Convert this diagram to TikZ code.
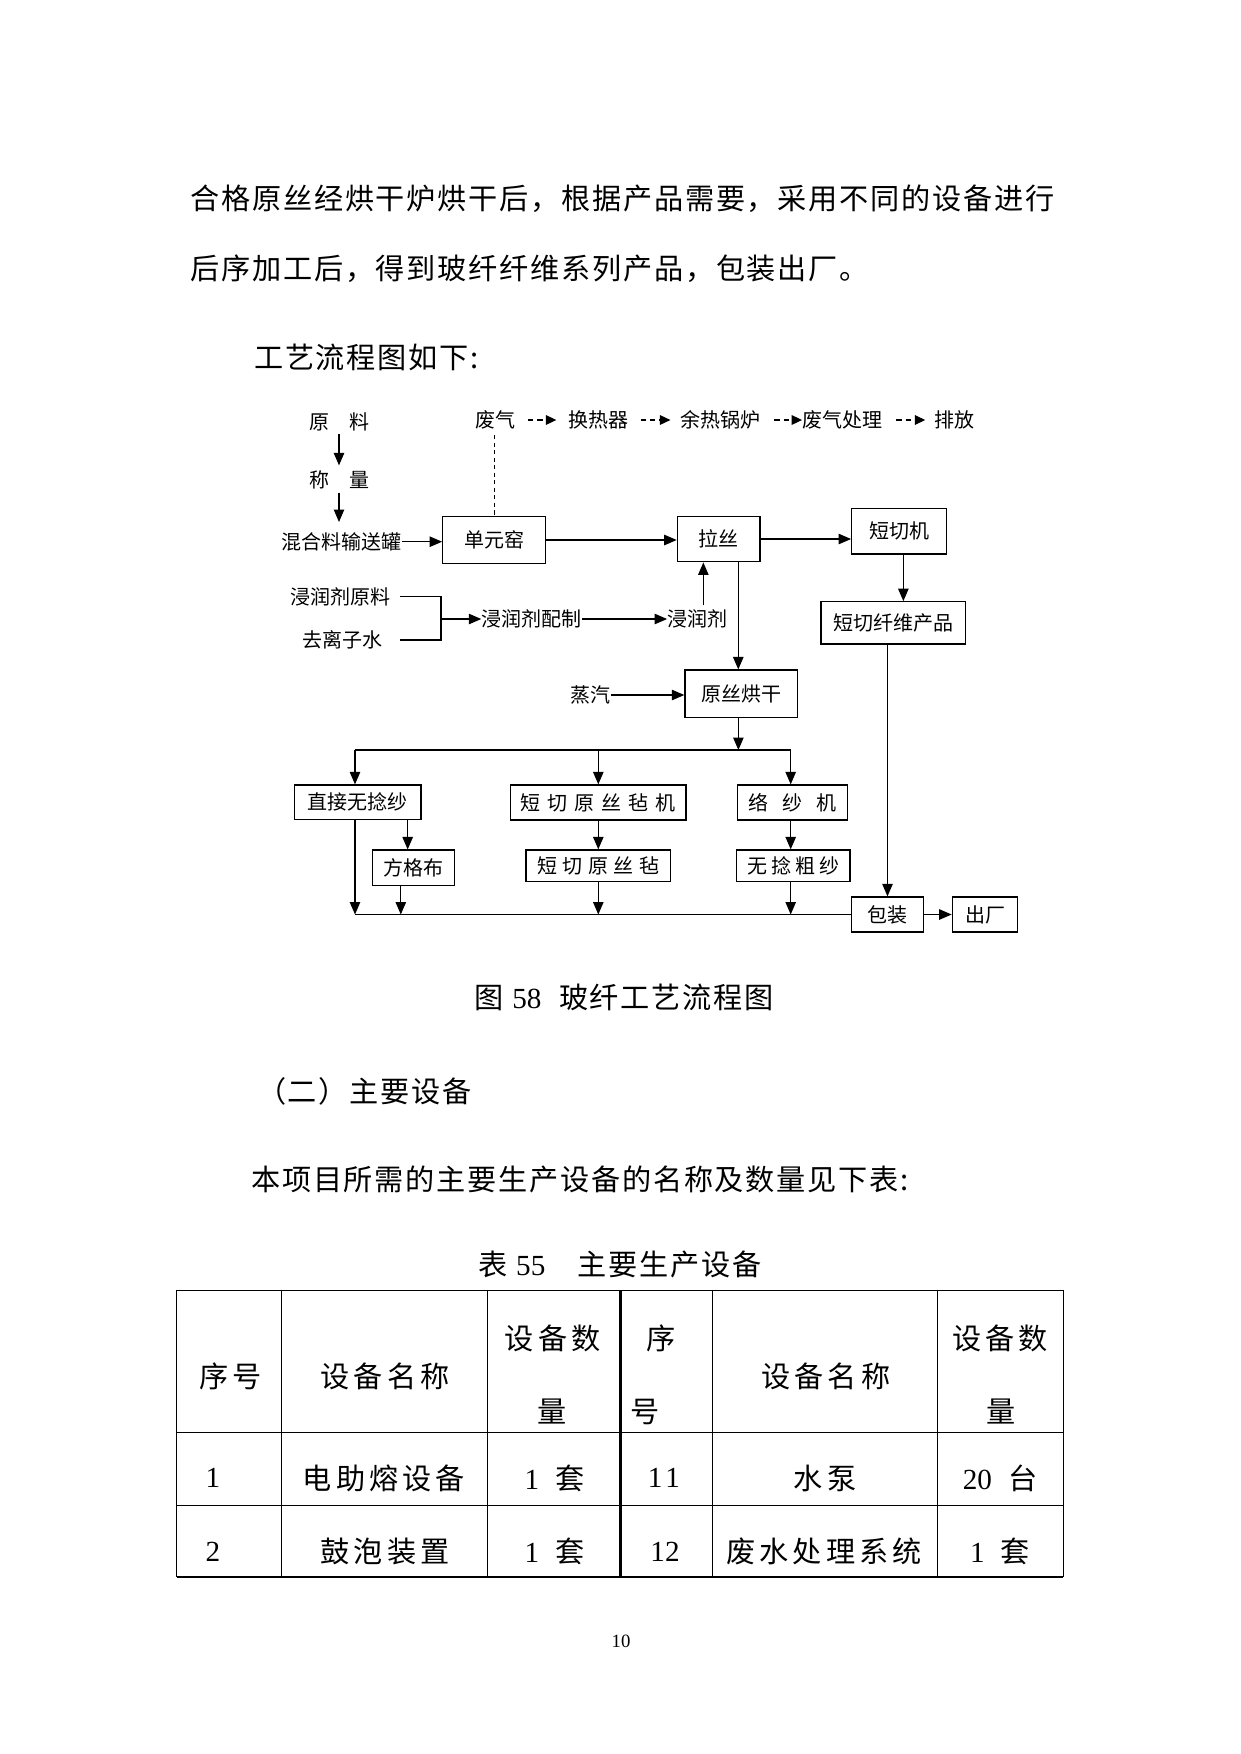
\documentclass[tikz,border=0pt]{standalone}
\usepackage{fontspec}
\setmainfont{Liberation Serif}
\newfontfamily\cjk{Noto Sans CJK SC}
\usetikzlibrary{arrows.meta, positioning}
\tikzset{
    box/.style={draw, line width=0.6pt, inner sep=0pt, font=\cjk\fontsize{9.6}{11}\selectfont},
    spaced/.style={font=\cjk\fontsize{9.6}{11}\selectfont\addfontfeatures{LetterSpace=#1}},
    lbl/.style={inner sep=0pt, font=\cjk\fontsize{9.6}{11}\selectfont},
    arr/.style={line width=0.6pt, -{Triangle[length=6pt, width=5pt]}},
    dasharr/.style={line width=0.6pt, dash pattern=on 2.6pt off 1.9pt, -{Triangle[length=5pt, width=4.6pt]}},
    line/.style={line width=0.6pt},
    body/.style={anchor=west, inner sep=0pt, font=\cjk\fontsize{14}{16}\selectfont\addfontfeatures{LetterSpace=6}},
    cell/.style={inner sep=0pt, font=\cjk\fontsize{14}{16}\selectfont\addfontfeatures{LetterSpace=14}},
    num/.style={inner sep=0pt, font=\fontsize{14}{16}\selectfont}
}
\begin{document}
\begin{tikzpicture}[x=0.48pt, y=-0.48pt]
    \useasboundingbox (0,0) rectangle (1241,1754);

    % text above the chart
    \node[body] (p1) at (190,199) {合格原丝经烘干炉烘干后，根据产品需要，采用不同的设备进行};
    \node[body] (p2) at (190,269) {后序加工后，得到玻纤纤维系列产品，包装出厂。};
    \node[body] (p3) at (253.7,357) {工艺流程图如下:};

    % raw material line
    \node[lbl] (yl) at (339,421.7) {原　料};
    \node[lbl] (cl) at (339,480) {称　量};
    \node[lbl] (hhl) at (341.7,541.7) {混合料输送罐};
    \node[box, minimum width=49.4pt, minimum height=22.4pt] (dyy) at (494.2,540) {单元窑\hspace{0.5em}};
    \node[box, minimum width=39.7pt, minimum height=21.9pt] (ls) at (718.7,539) {拉丝\hspace{0.5em}};
    \node[box, minimum width=45.6pt, minimum height=21.9pt] (dqj) at (899.2,531.2) {短切机};
    \node[box, minimum width=69.5pt, minimum height=20.3pt] (dqcp) at (893.3,622.9) {短切纤维产品};

    % waste gas line
    \node[lbl] (fq) at (495.8,420) {废气};
    \node[lbl] (hrq) at (598,420) {换热器};
    \node[lbl] (yrgl) at (720.8,420) {余热锅炉};
    \node[lbl] (fqcl) at (842.5,420) {废气处理};
    \node[lbl] (pf) at (954,420) {排放};

    % sizing agent
    \node[lbl] (jryl) at (340,596.7) {浸润剂原料};
    \node[lbl] (qlzs) at (342.5,640) {去离子水};
    \node[lbl] (jrpz) at (531.7,619) {浸润剂配制};
    \node[lbl] (jrj) at (697.5,619) {浸润剂};
    \node[lbl] (zq) at (590.8,695) {蒸汽};
    \node[box, minimum width=54.1pt, minimum height=22.7pt] (ysgh) at (741.3,693.7) {原丝烘干};

    % products
    \node[box, minimum width=60.8pt, minimum height=16.5pt] (zj) at (357.7,802.2) {直接无捻纱};
    \node[box, spaced=35, minimum width=84.3pt, minimum height=16.8pt] (dqjm) at (598.3,802.5) {短切原丝毡机};
    \node[box, spaced=70, minimum width=52.8pt, minimum height=16.8pt] (lsj) at (792.3,802.5) {络纱机};
    \node[box, minimum width=39.4pt, minimum height=17.1pt] (fgb) at (413.3,867.9) {方格布};
    \node[box, spaced=27, minimum width=69.3pt, minimum height=15.2pt] (dqz) at (598.3,865.8) {短切原丝毡};
    \node[box, spaced=20, minimum width=54.4pt, minimum height=15.2pt] (wncs) at (793.3,865.8) {无捻粗纱};
    \node[box, minimum width=34.4pt, minimum height=16.8pt] (bz) at (887.5,914.5) {包装};
    \node[box, minimum width=31.4pt, minimum height=16.8pt] (cc) at (985,914.5) {出厂};

    \coordinate (brk) at (441,619);
    \coordinate (busL) at (355,750);
    \coordinate (busR) at (790.7,750);
    \coordinate (botL) at (355,914.5);

    % connectors
    \draw[arr, shorten <=1.5pt, shorten >=2.4pt] (yl.south) -- (cl.north);
    \draw[arr, shorten <=1.4pt, shorten >=4.8pt] (cl.south) -- (cl.south |- hhl.north);
    \draw[arr] (hhl.east) -- (hhl.east -| dyy.west);
    \draw[arr] (dyy.east) -- (dyy.east -| ls.west);
    \draw[arr] (ls.east) -- (ls.east -| dqj.west);
    \draw[arr] ([xshift=2pt]dqj.south) -- ([xshift=2pt]dqj.south |- dqcp.north);
    \draw[arr] (dqcp.south -| bz.north) -- (bz.north);

    \draw[line, dash pattern=on 2pt off 1.6pt, shorten <=2.7pt] (fq.south -| dyy.north) -- (dyy.north);
    \draw[dasharr, shorten <=5.6pt, shorten >=5.4pt] (fq.east) -- (hrq.west);
    \draw[dasharr, shorten <=5.8pt, shorten >=4.8pt] (hrq.east) -- (yrgl.west);
    \draw[dasharr, shorten <=6.2pt] (yrgl.east) -- (fqcl.west);
    \draw[dasharr, shorten <=6.4pt, shorten >=4pt] (fqcl.east) -- (pf.west);

    \draw[line] ([xshift=4.8pt]jryl.east) -| (brk) |- ([xshift=8.4pt]qlzs.east);
    \draw[arr] (brk) -- (brk -| jrpz.west);
    \draw[arr] (jrpz.east) -- (jrj.west);
    \draw[arr, shorten <=1.9pt] ([xshift=2.8pt]jrj.north) -- ([xshift=2.8pt]jrj.north |- ls.south);
    \draw[arr] ([xshift=9.4pt]ls.south) -- ([xshift=9.4pt]ls.south |- ysgh.north);
    \draw[arr] (zq.east) -- (zq.east -| ysgh.west);

    \draw[line] (busL) -- (busR);
    \draw[arr] ([xshift=-1.4pt]ysgh.south) -- ([xshift=-1.4pt]ysgh.south |- busL);
    \draw[arr] (busL) -- (busL |- zj.north);
    \draw[arr] (busL -| dqjm.north) -- (dqjm.north);
    \draw[arr] (busR) -- (busR |- lsj.north);
    \draw[arr] ([xshift=-2.7pt]fgb.north |- zj.south) -- ([xshift=-2.7pt]fgb.north);
    \draw[arr] (dqjm.south) -- (dqz.north);
    \draw[arr] (busR |- lsj.south) -- (busR |- wncs.north);

    \draw[line] (botL) -- (botL -| bz.west);
    \draw[arr] (botL |- zj.south) -- (botL);
    \draw[arr] ([xshift=-6pt]fgb.south) -- ([xshift=-6pt]fgb.south |- botL);
    \draw[arr] (dqz.south) -- (dqz.south |- botL);
    \draw[arr] (busR |- wncs.south) -- (busR |- botL);
    \draw[arr] (bz.east) -- (cc.west);

    % caption and following text
    \node[body] (cap) at (474,997) {图\hspace{0.3em}{\rmfamily 58}\hspace{0.6em}玻纤工艺流程图};
    \node[body] (sec) at (256.6,1091.7) {（二）主要设备};
    \node[body] (intro) at (250.8,1179) {本项目所需的主要生产设备的名称及数量见下表:};
    \node[body] (tcap) at (477.9,1264) {表\hspace{0.3em}{\rmfamily 55}\hspace{1.1em}主要生产设备};

    % table
    \draw[line] (176.8,1290.7) rectangle (1063.3,1576.7);
    \foreach \cx in {281.4, 487.5, 712.7, 937.7}
        \draw[line] (\cx,1290.7) -- (\cx,1576.7);
    \draw[line width=1.1pt] (620.5,1290.7) -- (620.5,1576.7);
    \draw[line] (176.8,1432.7) -- (1063.3,1432.7);
    \draw[line] (176.8,1505.7) -- (1063.3,1505.7);
    \draw[line width=1.1pt] (176.8,1576.7) -- (1063.3,1576.7);

    \node[cell] (t11) at (230.5,1376.7) {序号};
    \node[cell] (t12) at (385,1376.7) {设备名称};
    \node[cell] (t13) at (552.7,1338.3) {设备数};
    \node[cell] (t13b) at (552.5,1411.7) {量};
    \node[cell] (t14) at (661,1338.3) {序};
    \node[cell] (t14b) at (645,1411.7) {号};
    \node[cell] (t15) at (825.8,1376.7) {设备名称};
    \node[cell] (t16) at (1000,1338.3) {设备数};
    \node[cell] (t16b) at (1000.8,1411.7) {量};

    \node[num] (r11) at (213,1478.3) {1};
    \node[cell] (r12) at (384,1478.3) {电助熔设备};
    \node[num] (r13) at (554.6,1478.3) {1\hspace{0.55em}{\cjk 套}};
    \node[num] (r14) at (664,1478.3) {1\hspace{0.1em}1};
    \node[cell] (r15) at (825,1478.3) {水泵};
    \node[num] (r16) at (1000,1478.3) {20\hspace{0.55em}{\cjk 台}};

    \node[num] (r21) at (213,1551.7) {2};
    \node[cell] (r22) at (385,1551.7) {鼓泡装置};
    \node[num] (r23) at (554.6,1551.7) {1\hspace{0.55em}{\cjk 套}};
    \node[num] (r24) at (665,1551.7) {12};
    \node[cell] (r25) at (824,1551.7) {废水处理系统};
    \node[num] (r26) at (1000,1551.7) {1\hspace{0.55em}{\cjk 套}};

    \node[font=\fontsize{9}{10}\selectfont, inner sep=0pt] (pg) at (621,1641.7) {10};
\end{tikzpicture}
\end{document}
